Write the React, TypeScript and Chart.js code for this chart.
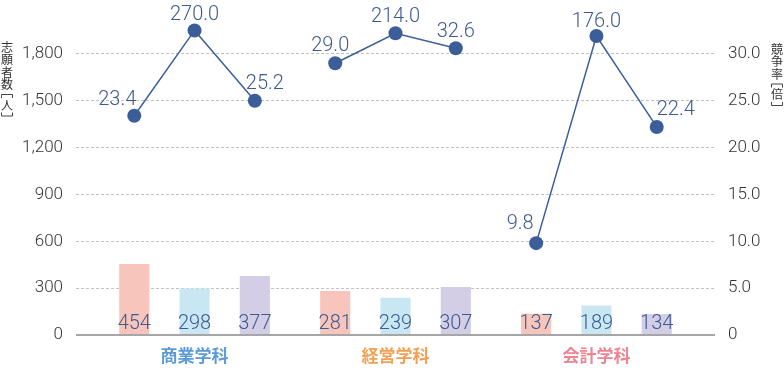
import { useEffect, useRef } from 'react';
import { Chart, registerables } from 'chart.js';

Chart.register(...registerables);

// ---- data ----
const GROUPS = ['商業学科', '経営学科', '会計学科'];
const GROUP_COLORS = ['#5b9bd6', '#f3a052', '#ee8393'];

// applicants, by position inside each group
const APPLICANTS_1 = [454, 281, 137];
const APPLICANTS_2 = [298, 239, 189];
const APPLICANTS_3 = [377, 307, 134];

// competition rate: plotted height and printed label
const RATE_VALUES = [23.4, 32.5, 25.0, 29.0, 32.2, 30.6, 9.8, 31.9, 22.2];
const RATE_LABELS = ['23.4', '270.0', '25.2', '29.0', '214.0', '32.6', '9.8', '176.0', '22.4'];

const LEFT_TICKS_MAX = 1800;
const RIGHT_TICKS_MAX = 30;

// label placement relative to each point (layout, not data)
const LABEL_DX = [-17, 0, 10, -5, 0, 0, -16, 0, 19];
const LABEL_DY = [-11, -10, -12, -12, -11, -11, -14, -9, -12];

const BAR_COLORS = ['#f8c5bc', '#c9e7f3', '#d4cde6'];
const LINE_COLOR = '#3c5e98';
const NUM_FONT = 'Roboto, "Liberation Sans", Arial, sans-serif';
const CJK_FONT = '"Noto Sans CJK JP", "Noto Sans CJK SC", sans-serif';
const IN_GROUP = 0.3;

function drawVertical(ctx: CanvasRenderingContext2D, text: string, cx: number, top: number) {
  ctx.save();
  ctx.fillStyle = '#333';
  ctx.strokeStyle = '#444';
  ctx.lineWidth = 1;
  ctx.font = `12px ${CJK_FONT}`;
  ctx.textAlign = 'center';
  ctx.textBaseline = 'middle';
  let y = top;
  for (const ch of text) {
    if (ch === '[' || ch === ']') {
      const h = 8;
      ctx.beginPath();
      if (ch === '[') {
        const ly = y + 3.5;
        ctx.moveTo(cx - 5.5, ly + 3.5);
        ctx.lineTo(cx - 5.5, ly);
        ctx.lineTo(cx + 5.5, ly);
        ctx.lineTo(cx + 5.5, ly + 3.5);
      } else {
        const ly = y + h - 3.5;
        ctx.moveTo(cx - 5.5, ly - 3.5);
        ctx.lineTo(cx - 5.5, ly);
        ctx.lineTo(cx + 5.5, ly);
        ctx.lineTo(cx + 5.5, ly - 3.5);
      }
      ctx.stroke();
      y += h;
    } else {
      ctx.fillText(ch, cx, y + 6.25);
      y += 12.5;
    }
  }
  ctx.restore();
}

const overlayPlugin = {
  id: 'overlay',
  afterDatasetsDraw(chart: any) {
    const ctx: CanvasRenderingContext2D = chart.ctx;
    const area = chart.chartArea;
    const yScale = chart.scales.y;
    const zeroY = yScale.getPixelForValue(0);
    // zero line
    ctx.save();
    ctx.strokeStyle = '#a6a6a6';
    ctx.lineWidth = 2;
    ctx.beginPath();
    ctx.moveTo(area.left, zeroY);
    ctx.lineTo(area.right, zeroY);
    ctx.stroke();
    ctx.restore();

    // bar labels
    ctx.save();
    ctx.font = `300 20px ${NUM_FONT}`;
    ctx.fillStyle = '#3d5b8f';
    ctx.textAlign = 'center';
    ctx.textBaseline = 'alphabetic';
    chart.data.datasets.forEach((ds: any, di: number) => {
      if (ds.type === 'line') return;
      const meta = chart.getDatasetMeta(di);
      meta.data.forEach((el: any, i: number) => {
        ctx.fillText(String(ds.data[i].y), el.x, zeroY - 6);
      });
    });
    // line labels
    let k = 0;
    chart.data.datasets.forEach((ds: any, di: number) => {
      if (ds.type !== 'line') return;
      const meta = chart.getDatasetMeta(di);
      meta.data.forEach((el: any) => {
        ctx.fillText(RATE_LABELS[k], el.x + LABEL_DX[k], el.y + LABEL_DY[k]);
        k++;
      });
    });
    ctx.restore();

    drawVertical(ctx, '志願者数[人]', 7, 41);
    drawVertical(ctx, '競争率[倍]', 777, 43);
  },
};

const noPad = (scale: any) => {
  scale.paddingTop = 0;
  scale.paddingBottom = 0;
  scale.paddingLeft = 0;
  scale.paddingRight = 0;
};

export default function App() {
  const ref = useRef<HTMLCanvasElement | null>(null);

  useEffect(() => {
    if (!ref.current) return;
    const barSeries = [APPLICANTS_1, APPLICANTS_2, APPLICANTS_3];
    const barSets = barSeries.map((arr, s) => ({
      type: 'bar' as const,
      data: arr.map((v, g) => ({ x: g, y: v })),
      backgroundColor: BAR_COLORS[s],
      borderWidth: 0,
      yAxisID: 'y',
      order: 2,
      categoryPercentage: 0.9,
      barPercentage: 0.5,
    }));
    const lineSets = GROUPS.map((_, g) => ({
      type: 'line' as const,
      data: [0, 1, 2].map((i) => ({ x: g + (i - 1) * IN_GROUP, y: RATE_VALUES[g * 3 + i] })),
      borderColor: LINE_COLOR,
      backgroundColor: LINE_COLOR,
      borderWidth: 1.5,
      pointRadius: 7,
      pointBorderWidth: 0,
      pointBackgroundColor: LINE_COLOR,
      yAxisID: 'y1',
      order: 0,
      fill: false,
    }));

    const chart = new Chart(ref.current, {
      type: 'bar',
      data: { datasets: [...barSets, ...lineSets] as any },
      options: {
        animation: false,
        responsive: true,
        maintainAspectRatio: false,
        layout: { padding: { top: 1.33, left: 0, right: 0, bottom: 0 } },
        plugins: { legend: { display: false }, tooltip: { enabled: false } },
        scales: {
          x: {
            type: 'linear',
            min: -0.59,
            max: 2.59,
            offset: false,
            grid: { display: false, drawTicks: false },
            border: { display: false },
            afterBuildTicks: (scale: any) => {
              scale.ticks = GROUPS.map((_, i) => ({ value: i }));
            },
            afterFit: (scale: any) => {
              scale.height = 35;
              noPad(scale);
            },
            ticks: {
              autoSkip: false,
              maxRotation: 0,
              padding: 10,
              callback: (v: any) => GROUPS[Math.round(Number(v))],
              color: (c: any) => GROUP_COLORS[c.index],
              font: { family: CJK_FONT, size: 17, weight: 'bold' },
            },
          },
          y: {
            type: 'linear',
            position: 'left',
            min: 0,
            max: 2100,
            afterBuildTicks: (scale: any) => {
              scale.ticks = scale.ticks.filter((t: any) => t.value <= LEFT_TICKS_MAX);
            },
            afterFit: (scale: any) => {
              scale.width = 76;
              noPad(scale);
            },
            grid: {
              drawTicks: false,
              color: (c: any) => (c.tick && c.tick.value === 0 ? 'rgba(0,0,0,0)' : '#c2c2c2'),
              lineWidth: 1,
            },
            border: { display: false, dash: [3, 2] },
            ticks: {
              stepSize: 300,
              padding: 13,
              color: '#333',
              font: { family: NUM_FONT, size: 17, weight: '300' },
              callback: (v: any) => Number(v).toLocaleString('en-US'),
            },
          },
          y1: {
            type: 'linear',
            position: 'right',
            min: 0,
            max: 35,
            afterBuildTicks: (scale: any) => {
              scale.ticks = scale.ticks.filter((t: any) => t.value <= RIGHT_TICKS_MAX);
            },
            afterFit: (scale: any) => {
              scale.width = 69;
              noPad(scale);
            },
            grid: { display: false, drawTicks: false },
            border: { display: false },
            ticks: {
              stepSize: 5,
              padding: 13,
              color: '#333',
              font: { family: NUM_FONT, size: 17, weight: '300' },
              callback: (v: any) => (Number(v) === 0 ? '0' : Number(v).toFixed(1)),
            },
          },
        },
      } as any,
      plugins: [overlayPlugin],
    });
    return () => chart.destroy();
  }, []);

  return (
    <div style={{ position: 'fixed', left: 0, top: 0, width: 784, height: 370, background: '#fff' }}>
      <canvas ref={ref} />
    </div>
  );
}
